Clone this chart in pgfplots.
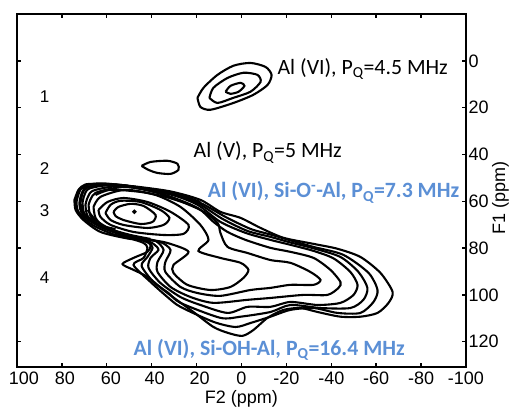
\documentclass[border=0pt]{standalone}
\usepackage{fontspec}
\setmainfont{Liberation Sans}
\newfontfamily\calb{Carlito}
\usepackage{pgfplots}
\pgfplotsset{compat=1.18}
\definecolor{anno}{HTML}{5B8FD5}
\begin{document}
\begin{tikzpicture}[x=1pt,y=1pt]
\useasboundingbox (-17,-41) rectangle (492,367);
\begin{axis}[
  at={(0,0)},anchor=south west,
  width=449pt,height=353pt,scale only axis,
  x dir=reverse,y dir=reverse,
  xmin=-100,xmax=100,ymin=-20,ymax=130.8,
  xtick={-100,-80,...,100},
  xticklabels={-100,-80,-60,-40,-20,0,\hspace{6pt}20,\hspace{6pt}40,\hspace{8pt}60,\hspace{6pt}80,\hspace{14pt}100},
  ytick={0,20,...,120},
  yticklabel pos=right,
  tick align=inside,
  major tick length=4pt,
  axis line style={line width=1.6pt},
  tick style={line width=1.4pt,black},
  /pgf/number format/assume math mode=true,
  ticklabel style={font=\fontsize{18}{20}\selectfont},
  xticklabel style={yshift=-1pt},
  yticklabel style={xshift=-1pt},
  clip=false,
  cycle list={{black,solid}},
  every axis plot/.append style={black,solid,line width=2.1pt,no marks,smooth,tension=0.45},
]
% peak 1
\addplot coordinates {(19.6,15.8)(16.9,11.5)(10.7,6.0)(3.6,2.1)(-4.0,0.9)(-10.7,2.6)(-13.4,6.0)(-11.6,10.3)(-5.3,14.5)(3.6,18.0)(13.8,20.9)(18.3,19.7)(19.6,15.8)};
\addplot coordinates {(14.3,15.8)(12.5,11.5)(6.2,7.3)(-0.9,5.1)(-7.1,6.0)(-8.5,9.0)(-4.0,13.2)(3.6,15.8)(10.7,18.0)(14.3,15.8)};
\addplot coordinates {(7.1,13.2)(4.9,10.7)(0.4,9.4)(-1.3,10.7)(1.3,13.2)(4.9,14.1)(7.1,13.2)};
% peak 2
\addplot coordinates {(44.5,44.9)(40.5,43.2)(33.0,42.7)(28.5,44.0)(28.1,46.6)(31.6,48.3)(37.4,47.9)(41.4,46.6)(44.5,44.9)};
% lobe rings
\addplot coordinates {(57.0,64.5)(54.8,62.4)(49.4,61.1)(43.6,62.0)(38.3,65.8)(39.6,68.8)(45.0,69.7)(52.6,68.0)(56.1,66.3)(57.0,64.5)};
\addplot coordinates {(60.6,65.0)(58.3,61.5)(53.9,59.8)(45.0,60.3)(36.1,63.7)(32.1,67.1)(34.7,70.1)(41.9,71.4)(52.6,70.1)(58.3,68.0)(60.6,65.0)};
\addplot coordinates {(63.7,63.7)(59.7,60.3)(52.6,58.6)(41.9,60.3)(31.6,64.5)(23.6,70.1)(25.8,73.9)(34.7,74.4)(48.1,73.1)(58.3,70.1)(62.8,66.7)(63.7,63.7)};
\addplot[only marks,mark=*,mark size=1pt,black] coordinates {(47.7,64.5)};
% A
\addplot coordinates {(65.9,62.4)(62.8,58.1)(51.7,55.1)(38.3,57.3)(27.2,62.4)(18.3,70.1)(14.7,76.5)(19.2,81.2)(9.4,84.2)(0.4,86.3)(-3.1,89.3)(-0.9,92.7)(4.9,96.6)(13.8,97.9)(24.1,95.7)(30.3,90.6)(30.3,87.2)(23.6,81.6)(33.0,77.8)(40.5,76.5)(49.4,74.8)(60.6,71.4)(65.0,67.1)(65.9,62.4)};
% B
\addplot coordinates {(68.1,61.5)(65.0,56.4)(51.7,53.9)(36.1,56.8)(18.3,63.7)(10.7,69.2)(9.4,73.5)(6.2,79.5)(-2.7,82.1)(-12.9,85.1)(-21.8,86.3)(-30.7,90.2)(-35.2,93.6)(-32.1,95.7)(-21.8,95.7)(-12.9,97.0)(-4.0,97.9)(9.4,100.4)(19.6,99.2)(27.2,96.6)(33.9,90.2)(33.9,85.9)(31.6,80.8)(36.1,77.4)(45.0,76.1)(51.7,74.6)(62.8,70.9)(67.3,66.2)(68.1,61.5)};
% C
\addplot coordinates {(69.5,61.5)(66.4,55.6)(51.7,53.4)(33.9,57.3)(19.6,62.8)(12.5,68.8)(6.2,73.1)(-1.8,76.5)(-12.9,79.9)(-21.8,81.6)(-32.1,84.2)(-39.6,89.3)(-44.1,94.5)(-43.2,97.0)(-38.3,100)(-27.6,100)(-12.9,101.3)(-2.7,102.1)(12.5,103.4)(22.7,100.9)(31.6,96.6)(37.4,90.2)(37.4,85.9)(34.7,80.8)(38.3,76.9)(45.0,75.9)(51.7,74.4)(63.7,70.5)(68.6,66.2)(69.5,61.5)};
% D
\addplot coordinates {(70.8,60.7)(68.1,54.7)(53.9,53.0)(31.6,57.1)(19.6,61.5)(9.4,68.8)(-1.8,73.5)(-12.9,76.5)(-21.8,78.6)(-32.1,81.2)(-41.0,84.4)(-48.5,90.2)(-51.7,95.7)(-49.9,100)(-44.1,103.4)(-33.9,104.3)(-21.8,103)(-12.9,105.1)(-2.7,105.1)(6.2,107.7)(18.3,104.3)(27.2,100.9)(36.1,94.9)(41.4,88.5)(40.5,84.2)(37.0,80.8)(39.2,78.2)(45.0,75.6)(51.7,74.2)(64.1,69.7)(69.9,65.4)(70.8,60.7)};
% E
\addplot coordinates {(72.2,60.7)(69.5,54.3)(56.1,52.8)(31.6,56.6)(19.6,60.7)(8.5,67.5)(-2.7,72.7)(-12.9,75.2)(-21.8,77.6)(-32.1,80.1)(-44.1,83.8)(-52.1,90.2)(-56.1,97)(-54.3,102.1)(-48.5,105.6)(-35.2,105.6)(-21.8,104.3)(-12.9,107.3)(0.4,109.3)(9.4,109.8)(27.2,103.4)(32.5,99.2)(39.2,94.5)(44.5,87.6)(41.9,83.8)(39.6,79.9)(41.4,77.8)(47.2,75.6)(53.9,73.7)(65.0,69.2)(71.3,64.5)(72.2,60.7)};
% F
\addplot coordinates {(73.5,60.3)(70.8,53.9)(60.6,52.4)(31.6,56.2)(18.3,60.7)(7.1,66.7)(-4.0,71.8)(-12.9,74.2)(-21.8,76.7)(-32.1,79.5)(-45.4,82.9)(-56.6,90.6)(-60.6,97.9)(-58.8,103)(-53,107.7)(-42.8,107.7)(-32.1,105.6)(-21.8,106.4)(-12.9,109.3)(-4,112)(2.7,113.7)(12.5,111.5)(27.2,105.1)(33,100.9)(40.5,94.5)(48.1,87.2)(43.6,84.2)(41.9,79.9)(43.6,77.8)(49.4,75.9)(56.1,73.5)(66.4,68.8)(72.6,64.5)(73.5,60.3)};
% G
\addplot coordinates {(74.4,59.4)(72.6,55.1)(69.5,52.8)(62.8,52.6)(48.1,53.6)(31.6,55.8)(18.3,59.4)(9.4,64.5)(0.4,67.1)(-8.5,71.4)(-18.7,75.6)(-32.1,78.2)(-42.8,80.3)(-53,83.8)(-61.9,90.6)(-67.3,98.7)(-65.5,103.4)(-60.6,107.7)(-53,109.3)(-44.1,109.3)(-33.9,107.3)(-26.3,105.6)(-18.7,106.4)(-11.6,109.8)(-5.3,115)(-0.4,117.5)(5.8,116.3)(12.5,113.7)(21.4,107.3)(33,99.2)(41.9,92.3)(48.1,89.3)(53,86.8)(48.1,84.2)(41.9,81.6)(40.5,79.1)(41.9,76.9)(50.8,75.9)(62.8,73.1)(70.4,68)(73.9,63.7)(74.4,59.4)};
% further contours packed into the dense band round the lobe
\addplot coordinates {(45,76.5)(56.1,74.4)(66.4,70.1)(73,64.5)(73.9,60.3)(71.7,54.7)(60.6,52.8)(48.1,54)(31.6,56)(18.3,60.3)};
\addplot coordinates {(47.2,75.2)(58.3,72.7)(68.1,68)(71.5,62.8)(71.5,59.4)(69,54.3)(56.1,53.2)(31.6,56.8)(19.6,61.1)};
\addplot coordinates {(40.5,76.1)(49.4,74.4)(58.3,71.9)(65,68)(68.5,63.7)};
\addplot coordinates {(56.1,71.9)(65,69.7)(69.9,65.8)(71.7,61.1)};
\addplot coordinates {(22.7,61.5)(33.9,58.1)(45,56)(58.3,55.1)(65,57.3)};
% texts
\node[anchor=base west,inner sep=0pt,font=\calb\fontsize{21.8}{24}\selectfont] at (axis cs:-16,6.0) {Al (VI), P\textsubscript{Q}=4.5 MHz};
\node[anchor=base west,inner sep=0pt,font=\calb\fontsize{21.8}{24}\selectfont] at (axis cs:21.4,41.5) {Al (V), P\textsubscript{Q}=5 MHz};
\node[anchor=base west,inner sep=0pt,text=anno,font=\calb\bfseries\fontsize{21.8}{24}\selectfont] at (axis cs:15.1,58.6) {Al (VI), Si-O\textsuperscript{-}-Al, P\textsubscript{Q}=7.3 MHz};
\node[anchor=base west,inner sep=0pt,text=anno,font=\calb\bfseries\fontsize{21.8}{24}\selectfont] at (axis cs:48.1,125.7) {Al (VI), Si-OH-Al, P\textsubscript{Q}=16.4 MHz};
\node[font=\fontsize{17}{19}\selectfont] at (axis cs:87.7,15.4) {1};
\node[font=\fontsize{17}{19}\selectfont] at (axis cs:87.7,46.2) {2};
\node[font=\fontsize{17}{19}\selectfont] at (axis cs:87.7,64.1) {3};
\node[font=\fontsize{17}{19}\selectfont] at (axis cs:87.7,92.7) {4};
\node[inner sep=0pt,font=\fontsize{18}{20}\selectfont] at (axis cs:0,144.3) {F2 (ppm)};
\node[rotate=90,anchor=base,inner sep=0pt,font=\fontsize{18}{20}\selectfont] at (axis cs:-117.4,58.8) {F1 (ppm)};
\end{axis}
\end{tikzpicture}
\end{document}
